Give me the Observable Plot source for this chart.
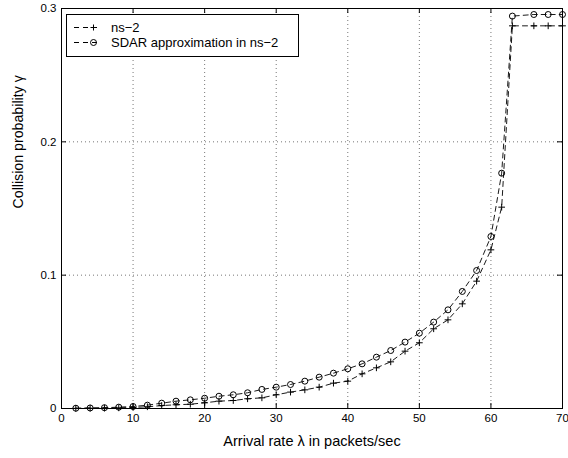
<!DOCTYPE html>
<html><head>
<meta charset="utf-8">
<script src="https://cdn.jsdelivr.net/npm/d3@7"></script>
<script src="https://cdn.jsdelivr.net/npm/@observablehq/plot@0.6"></script>
<style>
body{margin:0;background:#fff;}
#wrap{position:relative;width:568px;height:458px;font-family:"Liberation Sans",Arial,Helvetica,sans-serif;}
#legend{position:absolute;left:66px;top:14px;width:231px;height:41px;border:1px solid #000;background:#fff;font-size:13px;}
.row{position:absolute;left:0;height:15px;display:flex;align-items:center;}
.row svg{display:block}
.row span{position:absolute;left:44px;top:0;white-space:nowrap;line-height:15px;height:15px;}
</style></head><body><div id="wrap"></div>
<script>
// Arrival rate (packets/sec)
const rate = [2,4,6,8,10,12,14,16,18,20,22,24,26,28,30,32,34,36,38,40,42,44,46,48,50,52,54,56,58,60,61.5,63,66,68,70];
// ns-2 simulated collision probability
const ns2 = [0.0001,0.0002,0.0003,0.0005,0.0008,0.0013,0.0022,0.0028,0.0032,0.0043,0.0055,0.006,0.0073,0.008,0.0103,0.0123,0.014,0.016,0.019,0.0205,0.026,0.0305,0.035,0.043,0.0493,0.0598,0.0665,0.0785,0.0955,0.119,0.151,0.287,0.287,0.287,0.287];
// SDAR approximation in ns-2
const sdar = [0.0002,0.0004,0.0006,0.001,0.0015,0.0025,0.004,0.0055,0.0065,0.0077,0.0092,0.0103,0.0118,0.0143,0.016,0.018,0.0205,0.0235,0.0265,0.0298,0.0335,0.0385,0.0435,0.0498,0.0565,0.0648,0.074,0.0878,0.1035,0.129,0.1765,0.2943,0.2955,0.2955,0.2955];
const xTicks = [0,10,20,30,40,50,60,70];
const yTicks = [0,0.1,0.2,0.3];
const yTickLabels = ["0","0.1","0.2","0.3"];
const seriesNames = ["ns\u22122","SDAR approximation in ns\u22122"];
const xLabel = "Arrival rate \u03bb in packets/sec";
const yLabel = "Collision probability \u03b3";

const ns2Rows = rate.map((x,i)=>({x, y: ns2[i]}));
const sdarRows = rate.map((x,i)=>({x, y: sdar[i]}));

const W = 568, H = 458, mL = 61, mR = 6, mT = 8, mB = 50;
const fw = W - mL - mR, fh = H - mT - mB;
const tk = 5;
const dash = "5,4";

const chart = Plot.plot({
  width: W, height: H,
  marginLeft: mL, marginRight: mR, marginTop: mT, marginBottom: mB,
  style: {fontFamily: '"Liberation Sans",Arial,Helvetica,sans-serif', fontSize: "11px", color: "#000", background: "#fff"},
  x: {domain: [0,70]},
  y: {domain: [0,0.3]},
  marks: [
    Plot.gridX(xTicks.slice(1,-1), {stroke: "#777", strokeOpacity: 1, strokeDasharray: "1,3"}),
    Plot.gridY(yTicks.slice(1,-1), {stroke: "#777", strokeOpacity: 1, strokeDasharray: "1,3"}),
    Plot.tickX(xTicks, {x: d=>d, stroke: "#000", insetTop: fh - tk}),
    Plot.tickX(xTicks, {x: d=>d, stroke: "#000", insetBottom: fh - tk}),
    Plot.tickY(yTicks, {y: d=>d, stroke: "#000", insetRight: fw - tk}),
    Plot.tickY(yTicks, {y: d=>d, stroke: "#000", insetLeft: fw - tk}),
    Plot.axisX(xTicks, {tickSize: 0, tickPadding: 5, fontSize: 11.5, label: null}),
    Plot.axisY(yTicks, {tickSize: 0, tickPadding: 5, fontSize: 11.5, label: null, tickFormat: (d)=>yTickLabels[yTicks.indexOf(d)]}),
    Plot.line(ns2Rows, {x: "x", y: "y", stroke: "#000", strokeWidth: 0.9, strokeDasharray: dash}),
    Plot.line(sdarRows, {x: "x", y: "y", stroke: "#000", strokeWidth: 0.9, strokeDasharray: dash}),
    Plot.dot(ns2Rows, {x: "x", y: "y", symbol: "plus", r: 2.3, stroke: "#000", strokeWidth: 1, fill: "none"}),
    Plot.dot(sdarRows, {x: "x", y: "y", symbol: "circle", r: 3, stroke: "#000", strokeWidth: 1, fill: "none"}),
    Plot.frame({stroke: "#000", strokeWidth: 1}),
    Plot.text([xLabel], {frameAnchor: "bottom", dy: 33, fontSize: 14.5, lineAnchor: "middle", fill: "#000"}),
    Plot.text([yLabel], {frameAnchor: "left", dx: -43, rotate: -90, fontSize: 14.2, lineAnchor: "middle", fill: "#000"})
  ]
});
const wrap = document.getElementById("wrap");
wrap.appendChild(chart);

// legend
const leg = document.createElement("div");
leg.id = "legend";
const markers = [
  `<path d="M16.5,7.5H22.5M19.5,4.5V10.5" stroke="#000" fill="none"/>`,
  `<circle cx="19.5" cy="7.5" r="3" stroke="#000" fill="none"/>`
];
seriesNames.forEach((name,i)=>{
  const row = document.createElement("div");
  row.className = "row";
  row.style.top = (i === 0 ? 5 : 20) + "px";
  row.innerHTML = `<svg width="40" height="15" style="margin-left:7px"><line x1="0" y1="7.5" x2="27" y2="7.5" stroke="#000" stroke-dasharray="${dash}"/>${markers[i]}</svg><span>${name}</span>`;
  leg.appendChild(row);
});
wrap.appendChild(leg);
</script>
</body></html>
